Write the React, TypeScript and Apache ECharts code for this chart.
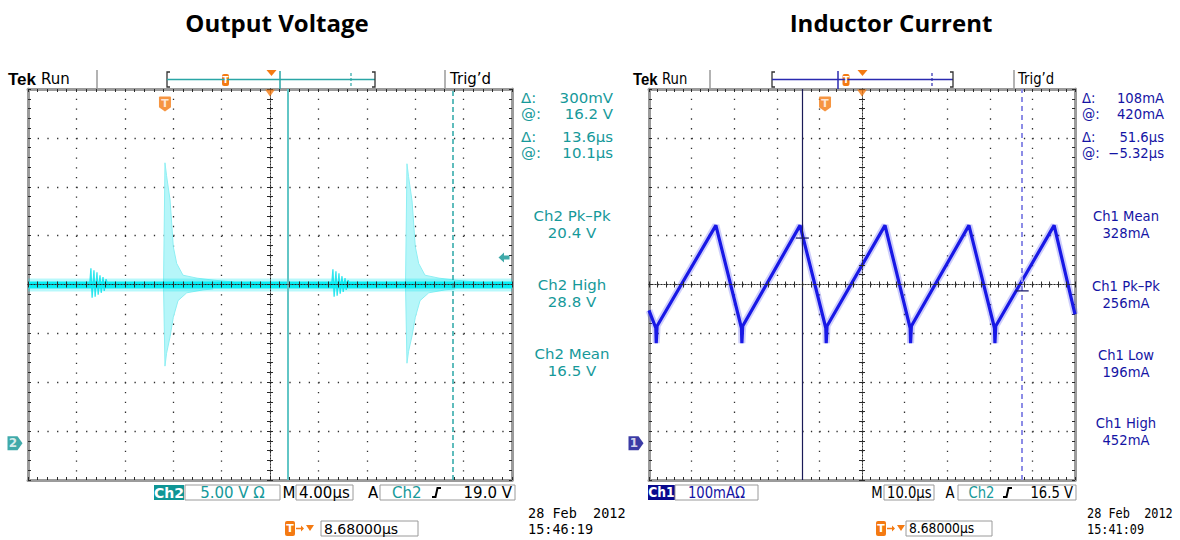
import React, { useEffect, useRef } from "react";
import * as echarts from "echarts";

// ===== Output Voltage scope (Ch2): time in µs, level in V =====
const ovTimeRange = [-20, 20]; // 4.00 µs/div x 10 div
const ovVoltRange = [-3.75, 36.25]; // 5.00 V/div x 8 div
const ovBaselineLevel = 16.2;
const ovBaseline = [[-20, 16.2], [20, 16.2]];
const ovSpike1Upper = [[-8.8, 16.2], [-8.68, 28.7], [-8.55, 27.4], [-8.26, 24.9], [-7.99, 20.1], [-7.71, 18.4], [-7.19, 17.2], [-6.03, 16.9], [-4.71, 16.7], [-3.0, 16.5]];
const ovSpike1Lower = [[-8.8, 16.2], [-8.68, 7.9], [-8.55, 9.2], [-8.26, 10.9], [-7.99, 12.9], [-7.6, 14.6], [-6.88, 15.4], [-5.54, 15.7], [-4.7, 15.8]];
const ovSpike2Upper = [[11.2, 16.2], [11.32, 28.6], [11.45, 27.3], [11.74, 24.8], [12.01, 20.1], [12.29, 18.4], [12.81, 17.2], [13.97, 16.9], [15.29, 16.7], [17.0, 16.5]];
const ovSpike2Lower = [[11.2, 16.2], [11.32, 8.2], [11.45, 9.4], [11.74, 11.0], [12.01, 12.9], [12.4, 14.6], [13.12, 15.4], [14.46, 15.7], [15.3, 15.8]];
const ovBurst1 = [[-14.9, 16.2], [-14.8, 17.9], [-14.7, 14.9], [-14.55, 17.7], [-14.45, 15.0], [-14.3, 17.5], [-14.2, 15.2], [-14.05, 17.2], [-13.95, 15.4], [-13.8, 17.0], [-13.7, 15.6], [-13.55, 16.8], [-13.4, 16.2]];
const ovBurst2 = [[5.1, 16.2], [5.2, 17.8], [5.3, 15.0], [5.45, 17.6], [5.55, 15.1], [5.7, 17.4], [5.8, 15.3], [5.95, 17.1], [6.05, 15.5], [6.2, 16.9], [6.3, 15.7], [6.45, 16.7], [6.6, 16.2]];
const ovCursorTimes = [1.5, 15.1];
const ovTriggerTime = -8.68;
const ovTriggerLevel = 19.0;
const ovReadouts = [["Δ:", "300mV"], ["@:", "16.2 V"], ["Δ:", "13.6µs"], ["@:", "10.1µs"]];
const ovMeasures = [["Ch2 Pk–Pk", "20.4 V"], ["Ch2 High", "28.8 V"], ["Ch2 Mean", "16.5 V"]];

// ===== Inductor Current scope (Ch1): time in µs, current in mA =====
const icTimeRange = [-50, 50]; // 10.0 µs/div
const icCurrentRange = [-75, 725]; // 100 mA/div
const icWave = [
  [-50, 272], [-48.4, 236], [-48.3, 205], [-48.1, 240],
  [-34.3, 446], [-28.3, 236], [-28.2, 205], [-28.0, 240],
  [-14.55, 446], [-8.5, 236], [-8.4, 205], [-8.2, 240],
  [5.4, 446], [11.3, 236], [11.4, 205], [11.6, 240],
  [25.1, 446], [31.1, 236], [31.2, 205], [31.4, 240],
  [45.1, 446], [50, 264],
];
const icCursorTimes = [-14.0, 37.6];
const icCursorMarks = [[-14.0, 420], [37.6, 312]];
const icTriggerTime = -8.68;
const icReadouts = [["Δ:", "108mA"], ["@:", "420mA"], ["Δ:", "51.6µs"], ["@:", "−5.32µs"]];
const icMeasures = [["Ch1 Mean", "328mA"], ["Ch1 Pk–Pk", "256mA"], ["Ch1 Low", "196mA"], ["Ch1 High", "452mA"]];

// ===== styling =====
const TEAL_TXT = "#16999a";
const TEAL_BG = "#109595";
const BLUE_TXT = "#1414a4";
const BLUE_BG = "#0a0a8e";
const ORANGE = "#f47a12";
const SX = 0.88; // right screenshot is horizontally compressed

const txt = (text: string, x: number, y: number, fill: string, font: string, align = "left", sx = 1, lh = 13): any => ({
  type: "text", x, y, scaleX: sx, silent: true, z: 20,
  style: {
    text, fill, textFill: fill, font, textAlign: align, align, textVerticalAlign: "middle", verticalAlign: "middle",
    lineHeight: lh, textLineHeight: lh,
  },
});
const line = (x1: number, y1: number, x2: number, y2: number, stroke: string, w = 1, dash?: number[]): any => ({
  type: "line", silent: true, z: 20, shape: { x1, y1, x2, y2 }, style: { stroke, lineWidth: w, lineDash: dash },
});
const rect = (x: number, y: number, width: number, height: number, fill: string, stroke?: string, r = 0): any => ({
  type: "rect", silent: true, z: 19, shape: { x, y, width, height, r }, style: { fill, stroke, lineWidth: 1 },
});
const poly = (points: number[][], fill: string): any => ({ type: "polygon", silent: true, z: 20, shape: { points }, style: { fill } });
const pline = (points: number[][], stroke: string, w = 1.5): any => ({ type: "polyline", silent: true, z: 20, shape: { points }, style: { stroke, lineWidth: w, fill: "none" } });

function header(p: any) {
  return [
    txt("Tek", p.tek, 79, "#000", 'bold 17px "Liberation Sans"', "left", p.sx, 15),
    txt("Run", p.run, 79, "#000", '15px "DejaVu Sans"', "left", p.sx, 14),
    line(p.sep1, 70, p.sep1, 89, "#9a9a9a", 1.5),
    pline([[p.b0 + 3, 72], [p.b0, 72], [p.b0, 87], [p.b0 + 3, 87]], "#333", 1.3),
    line(p.b0, 79.5, p.b1, 79.5, p.bar, 1.5),
    pline([[p.b1 - 3, 72], [p.b1, 72], [p.b1, 87], [p.b1 - 3, 87]], "#333", 1.3),
    line(p.solid, 71, p.solid, 89, p.bar, 1.5),
    line(p.dashed, 73, p.dashed, 87, p.bar, 1.2, [3, 2]),
    rect(p.tMark - 3.5, 74, 7, 12, ORANGE, undefined, 2),
    txt("T", p.tMark, 80, "#fff", 'bold 9px "DejaVu Sans"', "center", 1, 9),
    poly([[p.tri - 5, 70], [p.tri + 5, 70], [p.tri, 76]], ORANGE),
    line(p.sep2, 70, p.sep2, 89, "#9a9a9a", 1.5),
    txt("Trig’d", p.trig, 79, "#000", '15px "DejaVu Sans"', "left", p.sx, 14),
  ];
}

function readouts(rows: string[][], measures: string[][], lx: number, vx: number, cx: number, my: number[][], color: string, sx: number) {
  const ys = [98, 114, 137, 153];
  const f = '14px "DejaVu Sans"';
  const s = sx * 1.07;
  const out: any[] = [];
  rows.forEach((r, i) => {
    out.push(txt(r[0], lx, ys[i], color, f, "left", s, 14));
    out.push(txt(r[1], vx, ys[i], color, f, "right", s, 14));
  });
  measures.forEach((m, i) => {
    out.push(txt(m[0], cx, my[i][0], color, f, "center", s, 14));
    out.push(txt(m[1], cx, my[i][1], color, f, "center", s, 14));
  });
  return out;
}

function bottomRow(p: any) {
  const f1 = '15px "DejaVu Sans"';
  const f2 = '14px "DejaVu Sans"';
  return [
    rect(p.chX, 485, p.chW, 15, p.chBg),
    txt(p.ch, p.chX + p.chW / 2, 492.5, "#fff", 'bold 14px "DejaVu Sans"', "center", p.sx),
    rect(p.scX, 485, p.scW, 15, "#fff", "#9a9a9a"),
    txt(p.scale, p.scX + p.scW / 2, 492.5, p.chTxt, f1, "center", p.sx),
    txt("M", p.mX, 492.5, "#000", f1, "center", p.sx),
    rect(p.tbX, 485, p.tbW, 15, "#fff", "#9a9a9a"),
    txt(p.timebase, p.tbX + 3, 492.5, "#000", f1, "left", p.sx),
    txt("A", p.aX, 492.5, "#000", f1, "center", p.sx),
    rect(p.trX, 485, p.trW, 15, "#fff", "#9a9a9a"),
    txt("Ch2", p.trX + 12 * p.sx, 492.5, TEAL_TXT, f1, "left", p.sx),
    pline([[p.stepX, 497], [p.stepX + 3.5, 497], [p.stepX + 5.5, 488], [p.stepX + 9, 488]], "#000", 2),
    txt(p.level, p.trX + p.trW - 3, 492.5, "#000", f1, "right", p.sx),
    rect(p.tX, 521, 10, 15, ORANGE, undefined, 2),
    txt("T", p.tX + 5, 528.5, "#fff", 'bold 11px "DejaVu Sans"', "center", 1, 11),
    line(p.tX + 11, 528.5, p.tX + 18, 528.5, ORANGE, 1.5),
    poly([[p.tX + 16, 525.5], [p.tX + 19, 528.5], [p.tX + 16, 531.5]], ORANGE),
    poly([[p.tX + 21, 525], [p.tX + 29, 525], [p.tX + 25, 531]], ORANGE),
    rect(p.posX, 521, p.posW, 15, "#fff", "#9a9a9a"),
    txt("8.68000µs", p.posX + 3, 528.5, "#000", f2, "left", p.sx),
    txt("28 Feb  2012", p.dateX, 513, "#000", '13.5px "DejaVu Sans Mono"', "left", p.sx),
    txt(p.time, p.dateX, 529, "#000", '13.5px "DejaVu Sans Mono"', "left", p.sx),
  ];
}

function scopeAxes(g: number, xDash: number[], yDash: number[], dataX: number[], dataY: number[]) {
  const base = g * 5;
  const tickStyle = { color: "#2a2a2a", width: 1 };
  const border = { show: true, onZero: false, lineStyle: { color: "#9b9b9b", width: 3 } };
  const center = { show: true, onZero: true, onZeroAxisIndex: base, lineStyle: { color: "#2a2a2a", width: 1, type: [1, 2] } };
  const minor = { show: true, splitNumber: 5, length: 3, lineStyle: tickStyle };
  const tick = (inside: boolean) => ({ show: true, inside, length: 3, lineStyle: tickStyle });
  const common = { type: "value", gridIndex: g, interval: 1, silent: true, axisLabel: { show: false }, splitLine: { show: false }, axisPointer: { show: false } };
  const dx = { ...common, min: -5, max: 5 };
  const dy = { ...common, min: -4, max: 4 };
  const x = [
    { ...dx, position: "bottom", axisLine: border, axisTick: tick(true), minorTick: minor, splitLine: { show: true, lineStyle: { color: "#2e2e2e", width: 1.3, type: xDash } } },
    { ...dx, position: "top", axisLine: border, axisTick: tick(true), minorTick: minor },
    { ...dx, position: "bottom", axisLine: center, axisTick: tick(true), minorTick: minor, z: 5 },
    { ...dx, position: "bottom", axisLine: center, axisTick: tick(false), minorTick: minor, z: 5 },
    { type: "value", gridIndex: g, min: dataX[0], max: dataX[1], show: false, axisLine: { onZero: false } },
  ];
  const y = [
    { ...dy, position: "left", axisLine: border, axisTick: tick(true), minorTick: minor, splitLine: { show: true, lineStyle: { color: "#2e2e2e", width: 1.3, type: yDash } } },
    { ...dy, position: "right", axisLine: border, axisTick: tick(true), minorTick: minor },
    { ...dy, position: "left", axisLine: center, axisTick: tick(true), minorTick: minor, z: 5 },
    { ...dy, position: "left", axisLine: center, axisTick: tick(false), minorTick: minor, z: 5 },
    { type: "value", gridIndex: g, min: dataY[0], max: dataY[1], show: false, axisLine: { onZero: false } },
  ];
  return { x, y };
}

const shieldPath = "path://M1,0 H11 Q12,0 12,1 V10 L6,14 L0,10 V1 Q0,0 1,0 Z";
const groundPath = "path://M0,0 L10,0 L15,7 L10,14 L0,14 Z";
const arrowLeftPath = "path://M0,5 L6,0 L6,3 L12,3 L12,7 L6,7 L6,10 Z";

function buildOption(): any {
  const la = scopeAxes(0, [1.3, 8.475], [1.3, 8.38], ovTimeRange, ovVoltRange);
  const ra = scopeAxes(1, [1.3, 8.475], [1.3, 7.22], icTimeRange, icCurrentRange);
  const L = { xAxisIndex: 4, yAxisIndex: 4 };
  const R = { xAxisIndex: 9, yAxisIndex: 9 };
  const noHover = { silent: true, emphasis: { disabled: true }, symbol: "none", showSymbol: false };
  const spike = (data: number[][]) => ({
    type: "line", ...L, ...noHover, data, z: 1,
    lineStyle: { width: 1, color: "#8eeff3" },
    areaStyle: { color: "#b6f6f9", opacity: 1, origin: ovBaselineLevel },
  });
  const burst = (data: number[][]) => ({ type: "line", ...L, ...noHover, data, z: 2, lineStyle: { width: 1.3, color: "#2fe6ee" } });

  const markers = (axes: any, trigT: number, yMax: number, color: string, label: string, extra: any[]) => ({
    type: "scatter", ...axes, silent: true, clip: false, z: 8,
    data: [
      { value: [trigT, yMax], symbol: shieldPath, symbolSize: [12, 15], symbolOffset: [0, 15], itemStyle: { color: ORANGE },
        label: { show: true, formatter: "T", color: "#fff", fontWeight: "bold", fontSize: 11, fontFamily: "DejaVu Sans", position: "inside", offset: [0, -1] } },
      { value: [0, yMax], symbol: "triangle", symbolRotate: 180, symbolSize: [10, 7], symbolOffset: [0, 4], itemStyle: { color: ORANGE } },
      { value: [axes === L ? ovTimeRange[0] : icTimeRange[0], 0], symbol: groundPath, symbolSize: [15, 14], symbolOffset: [-13, 0], itemStyle: { color },
        label: { show: true, formatter: label, color: "#fff", fontWeight: "bold", fontSize: 12, fontFamily: "DejaVu Sans", position: "inside", offset: [-2, 0] } },
      ...extra,
    ],
  });

  const series: any[] = [
    spike(ovSpike1Upper), spike(ovSpike1Lower), spike(ovSpike2Upper), spike(ovSpike2Lower),
    burst(ovBurst1), burst(ovBurst2),
    { type: "line", ...L, ...noHover, data: ovBaseline, z: 3, lineStyle: { width: 13, color: "rgba(0,230,240,0.28)" } },
    {
      type: "line", ...L, ...noHover, data: ovBaseline, z: 3, lineStyle: { width: 7, color: "#08eef4" },
      markLine: {
        silent: true, symbol: ["none", "none"], label: { show: false }, emphasis: { disabled: true },
        data: [
          { xAxis: ovCursorTimes[0], lineStyle: { color: "#62c6c6", width: 2, type: "solid" } },
          { xAxis: ovCursorTimes[1], lineStyle: { color: "#2aa6a6", width: 1.5, type: [5, 3] } },
        ],
      },
    },
    markers(L, ovTriggerTime, ovVoltRange[1], TEAL_BG, "2", [
      { value: [ovTimeRange[1], ovTriggerLevel], symbol: arrowLeftPath, symbolSize: [11, 10], symbolOffset: [-8, 0], itemStyle: { color: TEAL_BG } },
    ]),
    { type: "line", ...R, ...noHover, data: icWave, z: 3, lineStyle: { width: 7, color: "rgba(80,80,240,0.28)" } },
    {
      type: "line", ...R, ...noHover, data: icWave, z: 3, lineStyle: { width: 3.2, color: "#1818e6" },
      markLine: {
        silent: true, symbol: ["none", "none"], label: { show: false }, emphasis: { disabled: true },
        data: [
          { xAxis: icCursorTimes[0], lineStyle: { color: "#1a1a58", width: 1.2, type: "solid" } },
          { xAxis: icCursorTimes[1], lineStyle: { color: "#8c8ce6", width: 2, type: [5, 4] } },
        ],
      },
    },
    markers(R, icTriggerTime, icCurrentRange[1], BLUE_BG, "1",
      icCursorMarks.map((v) => ({ value: v, symbol: "rect", symbolSize: [13, 1.6], itemStyle: { color: "#1c1c6a" } }))),
  ];

  const graphic: any[] = [
    txt("Output Voltage", 277, 22, "#000", 'bold 24px "Open Sans"', "center", 1, 26),
    txt("Inductor Current", 891, 22, "#000", 'bold 24px "Open Sans"', "center", 1, 26),
    ...header({ tek: 8, run: 41, sep1: 97, b0: 167, b1: 375, solid: 280, dashed: 351, tMark: 225.5, tri: 271.5, sep2: 445, trig: 450, bar: "#2aa6a6", sx: 1 }),
    ...header({ tek: 633, run: 662, sep1: 710, b0: 772, b1: 953, solid: 838, dashed: 932, tMark: 846, tri: 862.5, sep2: 1014, trig: 1018, bar: "#2a2ab0", sx: SX }),
    ...readouts(ovReadouts, ovMeasures, 521, 613, 572, [[216, 233], [285, 302], [354, 371]], TEAL_TXT, 1),
    ...readouts(icReadouts, icMeasures, 1082, 1164, 1126, [[216, 233], [286, 303], [355, 372], [423, 440]], BLUE_TXT, SX),
    ...bottomRow({ sx: 1, ch: "Ch2", chX: 154, chW: 30, chBg: TEAL_BG, chTxt: TEAL_TXT, scX: 185, scW: 95, scale: "5.00 V Ω", mX: 289,
      tbX: 296, tbW: 57, timebase: "4.00µs", aX: 373, trX: 380, trW: 135, stepX: 432, level: "19.0 V",
      tX: 285, posX: 321, posW: 97, dateX: 528, time: "15:46:19" }),
    ...bottomRow({ sx: SX, ch: "Ch1", chX: 648, chW: 27, chBg: BLUE_BG, chTxt: BLUE_TXT, scX: 675, scW: 83, scale: "100mAΩ", mX: 877,
      tbX: 884, tbW: 50, timebase: "10.0µs", aX: 950, trX: 958, trW: 118, stepX: 1003, level: "16.5 V",
      tX: 876, posX: 906, posW: 86, dateX: 1087, time: "15:41:09" }),
  ];

  return {
    animation: false,
    backgroundColor: "#ffffff",
    grid: [
      { left: 28, top: 89, width: 484, height: 391, show: false, containLabel: false, outerBoundsMode: "none" },
      { left: 649, top: 89, width: 426, height: 391, show: false, containLabel: false, outerBoundsMode: "none" },
    ],
    xAxis: [...la.x, ...ra.x],
    yAxis: [...la.y, ...ra.y],
    series,
    graphic,
  };
}

export default function App() {
  const ref = useRef<HTMLDivElement>(null);
  useEffect(() => {
    if (!ref.current) return;
    const chart = echarts.init(ref.current, null, { renderer: "svg" });
    chart.setOption(buildOption());
    return () => chart.dispose();
  }, []);
  return <div ref={ref} style={{ position: "fixed", left: 0, top: 0, width: 1180, height: 540, background: "#fff" }} />;
}
